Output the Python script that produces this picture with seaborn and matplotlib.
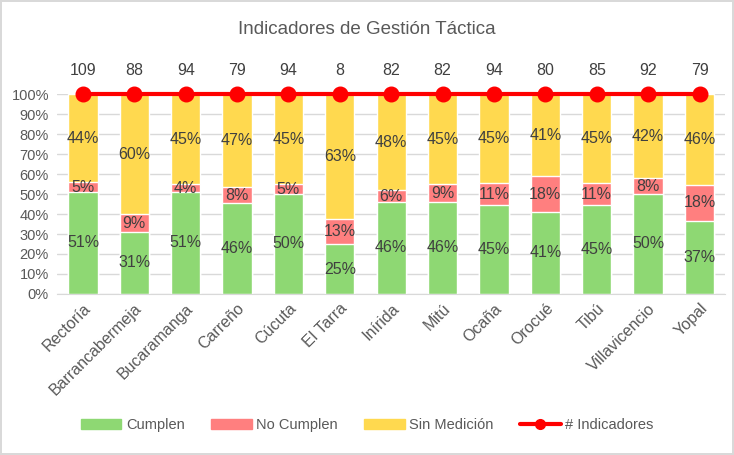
import numpy as np
import pandas as pd
import matplotlib.pyplot as plt
import seaborn as sns
from matplotlib.lines import Line2D
from matplotlib.patches import Patch

# ---------------------- datos ----------------------
sedes = ['Rectoría', 'Barrancabermeja', 'Bucaramanga', 'Carreño', 'Cúcuta', 'El Tarra',
         'Inírida', 'Mitú', 'Ocaña', 'Orocué', 'Tibú', 'Villavicencio', 'Yopal']
cumplen = [51, 31, 51, 46, 50, 25, 46, 46, 45, 41, 45, 50, 37]
no_cumplen = [5, 9, 4, 8, 5, 13, 6, 9, 11, 18, 11, 8, 18]
sin_medicion = [44, 60, 45, 47, 45, 63, 48, 45, 45, 41, 45, 42, 46]
n_indicadores = [109, 88, 94, 79, 94, 8, 82, 82, 94, 80, 85, 92, 79]

c_verde = '#8ED873'
c_rojo = '#FF7F7F'
c_amarillo = '#FFD94F'
c_texto = '#404040'
c_eje = '#595959'

df = pd.DataFrame({'sede': sedes, 'c': cumplen, 'nc': no_cumplen, 'sm': sin_medicion})
tot = df[['c', 'nc', 'sm']].sum(axis=1)
df['p_c'] = df['c'] / tot
df['p_nc'] = df['nc'] / tot
df['p_sm'] = df['sm'] / tot
df['cum1'] = df['p_c']
df['cum2'] = df['p_c'] + df['p_nc']
df['cum3'] = df['cum2'] + df['p_sm']

sns.set_style('white')
plt.rcParams['font.family'] = ['Liberation Sans', 'DejaVu Sans']

fig = plt.figure(figsize=(7.34, 4.55), dpi=100)
fig.patch.set_edgecolor('#D9D9D9')
fig.patch.set_linewidth(1.5)
ax = fig.add_axes([0.078, 0.354, 0.910, 0.439])

ancho = 0.57
# barras apiladas (se dibujan los acumulados de mayor a menor)
sns.barplot(data=df, x='sede', y='cum3', color=c_amarillo, width=ancho, saturation=1, ax=ax, zorder=2)
sns.barplot(data=df, x='sede', y='cum2', color=c_rojo, width=ancho, saturation=1, ax=ax, zorder=2)
sns.barplot(data=df, x='sede', y='cum1', color=c_verde, width=ancho, saturation=1, ax=ax, zorder=2)

# etiquetas de porcentaje
fs = 11.5
for i, r in df.iterrows():
    ax.text(i, r['cum1'] / 2, f"{r['c']}%", ha='center', va='center', fontsize=fs, color=c_texto, zorder=5)
    ax.text(i, r['cum1'] + r['p_nc'] / 2, f"{r['nc']}%", ha='center', va='center', fontsize=fs, color=c_texto, zorder=5)
    ax.text(i, r['cum2'] + r['p_sm'] / 2, f"{r['sm']}%", ha='center', va='center', fontsize=fs, color=c_texto, zorder=5)

# línea de # indicadores
x = np.arange(len(sedes))
ax.plot(x, df['cum3'].clip(upper=1.0), color='#FF0000', lw=3, marker='o', ms=10.5,
        zorder=6, clip_on=False)
for i, n in enumerate(n_indicadores):
    ax.annotate(str(n), (i, 1.0), xytext=(0, 12), textcoords='offset points',
                ha='center', va='bottom', fontsize=11.5, color=c_texto)

ax.set_ylim(0, 1.0)
ax.set_xlim(-0.5, len(sedes) - 0.5)
ax.set_yticks(np.arange(0, 1.01, 0.1))
ax.set_yticklabels([f'{int(round(v * 100))}%' for v in np.arange(0, 1.01, 0.1)])
ax.yaxis.grid(True, color='#D9D9D9', lw=1, zorder=0)
ax.set_axisbelow(True)
ax.set_xlabel('')
ax.set_ylabel('')
for s in ['top', 'right', 'left']:
    ax.spines[s].set_visible(False)
ax.spines['bottom'].set_color('#D9D9D9')
ax.tick_params(axis='y', colors=c_eje, labelsize=10.5, length=0, pad=6)
ax.tick_params(axis='x', colors=c_eje, labelsize=11.5, length=0, pad=5)
plt.setp(ax.get_xticklabels(), rotation=45, ha='right', rotation_mode='anchor')

fig.text(0.5, 0.935, 'Indicadores de Gestión Táctica', ha='center', va='center',
         fontsize=13.5, color=c_eje)

handles = [Patch(color=c_verde), Patch(color=c_rojo), Patch(color=c_amarillo),
           Line2D([], [], color='#FF0000', lw=3, marker='o', ms=7)]
labels = ['Cumplen', 'No Cumplen', 'Sin Medición', '# Indicadores']
fig.legend(handles, labels, loc='center', bbox_to_anchor=(0.5, 0.066), ncol=4,
           frameon=False, fontsize=10.5, labelcolor=c_eje, handlelength=2.8,
           handleheight=0.7, columnspacing=1.8, handletextpad=0.3)

fig.savefig('out.png', dpi=100)
